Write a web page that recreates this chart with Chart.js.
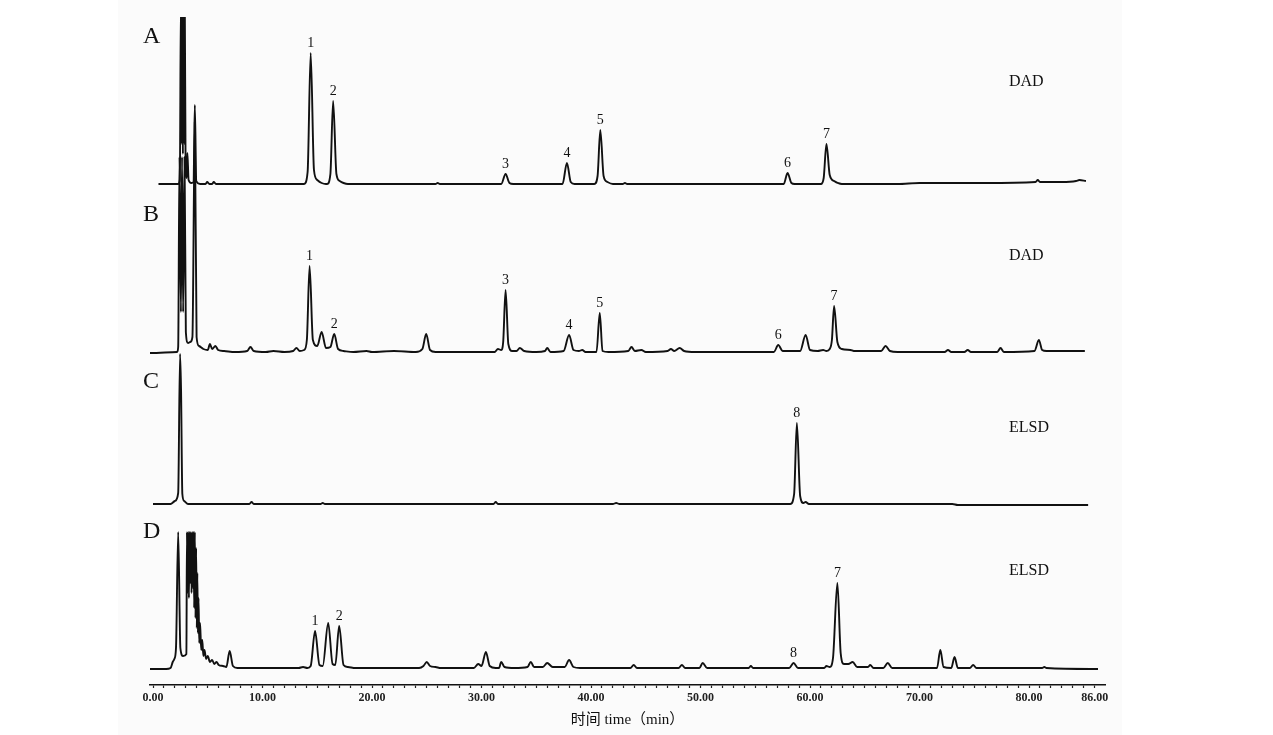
<!DOCTYPE html>
<html>
<head>
<meta charset="utf-8">
<script src="https://cdn.jsdelivr.net/npm/chart.js@4.4.1/dist/chart.umd.min.js"></script>
<style>
	html, body { margin: 0; padding: 0; background: #fff; }
	#chart { display: block; }
</style>
</head>
<body>
<canvas id="chart" width="1273" height="735"></canvas>
<script>
// retention time (min), signal height above each trace's own baseline
const traceA = [
	[0.5, 0], [2.3, 0], [2.45, 4], [2.55, 185], [2.61, 40], [2.67, 185], [2.73, 30], [2.79, 185], [2.85, 40],
	[2.9, 185], [2.98, 10], [3.08, 6], [3.14, 31], [3.25, 4], [3.5, 1],
	[3.7, 2], [3.82, 79], [3.95, 3], [4.3, 0], [4.8, 0], [4.95, 2], [5.15, 0], [5.4, 0], [5.55, 2], [5.75, 0],
	[13.8, 0], [14.12, 12], [14.4, 131], [14.7, 14], [15.0, 4], [15.4, 1], [15.8, 0],
	[15.9, 0], [16.2, 10], [16.45, 83], [16.75, 10], [17.05, 3], [17.4, 1], [17.8, 0],
	[25.8, 0], [26.0, 1], [26.2, 0],
	[31.8, 0], [32.2, 10], [32.55, 1], [32.9, 0],
	[37.4, 0], [37.8, 21], [38.15, 2], [38.5, 0],
	[40.3, 0], [40.6, 8], [40.85, 54], [41.15, 8], [41.5, 2], [42, 0], [42.9, 0], [43.1, 1], [43.3, 0],
	[57.6, 0], [57.95, 11], [58.3, 1], [58.6, 0],
	[61.0, 0], [61.25, 6], [61.5, 40], [61.8, 9], [62.2, 3], [62.9, 0],
	[68, 0], [70, 1], [76, 1], [80.6, 2], [80.8, 4], [81, 2], [83, 2], [84.3, 3], [84.6, 4], [85.2, 3]
]
const traceB = [
	[-0.3, -1], [2.2, 0], [2.3, 5], [2.42, 195], [2.55, 40], [2.65, 195], [2.75, 40], [2.88, 195], [3.0, 20], [3.2, 9], [3.4, 10],
	[3.6, 15], [3.82, 230], [3.98, 15], [4.2, 6], [4.6, 3], [5.0, 2], [5.2, 8], [5.4, 3], [5.7, 6], [5.95, 2],
	[6.5, 1], [7.5, 0], [8.6, 1], [8.9, 5], [9.2, 1], [10.3, 0], [11, 1], [12, 0], [12.8, 1], [13.1, 4], [13.4, 1],
	[13.8, 2], [14.05, 12], [14.3, 86], [14.6, 12], [15.0, 6], [15.4, 20], [15.8, 4], [16.2, 5], [16.55, 18], [16.9, 3], [17.4, 1],
	[18.3, 0], [19.5, 1], [20, 0], [22, 1], [24, 0], [24.6, 3], [24.95, 18], [25.3, 2], [25.8, 0],
	[31.2, 0], [31.5, 3], [31.8, 2], [31.98, 10], [32.2, 62], [32.45, 8], [32.8, 1], [33.2, 1], [33.5, 4], [33.9, 1], [35, 0], [35.8, 1],
	[36, 4], [36.3, 0], [37.5, 1], [38, 17], [38.4, 2], [38.9, 1], [39.2, 2], [39.5, 0], [40.5, 0], [40.8, 39],
	[41.05, 1], [41.6, 0], [43.4, 1], [43.7, 5], [44, 1], [44.6, 2], [45, 0], [47, 1], [47.3, 3], [47.6, 1],
	[48.1, 4], [48.5, 1], [49.5, 0], [56.7, 0], [57.1, 7], [57.5, 1], [59.1, 1], [59.6, 17], [60, 2], [60.7, 1],
	[61.2, 2], [61.5, 1], [61.8, 3], [62.0, 12], [62.2, 46], [62.5, 10], [62.9, 3], [63.7, 2], [64, 1], [65.1, 1], [66.5, 1],
	[66.9, 6], [67.3, 1], [68, 0], [72.3, 0], [72.6, 2], [72.9, 0], [74.1, 0], [74.4, 2], [74.7, 0], [77.1, 0], [77.4, 4], [77.7, 0], [80.5, 1],
	[80.9, 12], [81.2, 2], [81.6, 1], [85.1, 1]
]
const traceC = [
	[0, 0], [1.6, 0], [2.0, 3], [2.3, 11], [2.47, 150], [2.56, 115], [2.68, 10], [2.85, 3], [3.2, 0],
	[8.8, 0], [9.0, 2], [9.2, 0], [15.3, 0], [15.5, 1], [15.7, 0], [31.1, 0], [31.3, 2], [31.5, 0],
	[42, 0], [42.3, 1], [42.6, 0],
	[58.2, 0], [58.55, 10], [58.8, 81], [59.1, 8], [59.4, 1], [59.6, 2], [59.9, 0],
	[73, 0], [73.5, -1], [85.4, -1]
]
const traceD = [
	[-0.3, -1], [1.2, -1], [1.6, 0], [1.8, 6], [1.95, 9], [2.1, 20], [2.3, 136], [2.5, 20], [2.75, 12], [3.05, 14],
	[3.1, 136], [3.16, 75], [3.22, 136], [3.28, 70], [3.34, 136], [3.4, 85], [3.46, 136], [3.52, 75], [3.58, 136],
	[3.64, 80], [3.7, 136], [3.76, 60], [3.82, 136], [3.88, 50], [3.94, 120], [4.0, 40], [4.05, 95], [4.1, 35],
	[4.16, 70], [4.22, 25], [4.3, 45], [4.4, 18], [4.5, 28], [4.6, 12], [4.7, 18], [4.85, 9], [5.0, 12], [5.2, 6],
	[5.4, 8], [5.6, 4], [5.8, 6], [6.0, 3], [6.4, 2], [6.7, 1], [7.0, 17], [7.3, 2], [7.7, 0], [13.3, 0], [13.7, 1],
	[14.1, 0], [14.4, 2], [14.8, 37], [15.2, 3], [15.5, 2], [16.0, 45], [16.4, 4], [16.65, 3], [17.0, 42], [17.4, 3],
	[17.8, 1], [18.5, 0], [24.3, 0], [24.7, 2], [25.0, 6], [25.3, 2], [25.8, 1], [26.3, 0], [29.3, 0], [29.7, 4],
	[30.0, 2], [30.4, 16], [30.75, 2], [31.3, 0], [31.6, 0], [31.8, 6], [32.1, 1], [33, 0], [34.2, 1], [34.5, 6],
	[34.8, 1], [35.6, 1], [36, 5], [36.5, 1], [37.6, 1], [38, 8], [38.4, 1], [39, 0], [43.6, 0], [43.9, 3], [44.2, 0],
	[48, 0], [48.3, 3], [48.6, 0], [49.9, 0], [50.2, 5], [50.6, 0], [54.4, 0], [54.6, 2], [54.8, 0], [58.1, 0],
	[58.5, 5], [58.9, 0], [61.3, 0], [61.5, 2], [61.8, 1], [62.1, 10], [62.5, 85], [62.8, 15], [63.1, 4], [63.5, 4],
	[63.9, 6], [64.3, 1], [65.3, 1], [65.5, 3], [65.8, 0], [66.7, 0], [67.1, 5], [67.5, 0], [71.6, 0], [71.9, 18],
	[72.2, 1], [72.9, 0], [73.2, 11], [73.5, 0], [74.6, 0], [74.9, 3], [75.2, 0], [81.2, 0], [81.4, 1], [81.6, 0],
	[86.3, -1]
]

// numbered peaks: retention time of the apex, label
const peaksA = [[14.4, '1'], [16.45, '2'], [32.2, '3'], [37.8, '4'], [40.85, '5'], [57.95, '6'], [61.5, '7']]
const peaksB = [[14.3, '1'], [16.55, '2'], [32.2, '3'], [38.0, '4'], [40.8, '5'], [57.1, '6'], [62.2, '7']]
const peaksC = [[58.8, '8']]
const peaksD = [[14.8, '1'], [17.0, '2'], [58.5, '8'], [62.5, '7']]

const panelNames = ['A', 'B', 'C', 'D']
const detectors = ['DAD', 'DAD', 'ELSD', 'ELSD']
const labelTicks = [0, 10, 20, 30, 40, 50, 60, 70, 80, 86]
const xTitle = '时间 time（min）'

//layout------------------------------------------------------------

const offsets = [501, 333, 181, 17] // vertical shift of each trace
const letterY = [37, 215, 382, 532]
const detectorY = [82, 256, 428, 571]
const panel = { left: 118, right: 1122 }
const serif = '"Liberation Serif", "Times New Roman", serif'

const traces = [traceA, traceB, traceC, traceD]
const peaks = [peaksA, peaksB, peaksC, peaksD]

const decor = {
	id: 'decor',
	beforeDraw(chart) {
		const ctx = chart.ctx
		ctx.save()
		ctx.fillStyle = '#fff'
		ctx.fillRect(0, 0, chart.width, chart.height)
		ctx.fillStyle = '#fbfbfb'
		ctx.fillRect(panel.left, 0, panel.right - panel.left, chart.height)
		ctx.restore()
	},
	afterDraw(chart) {
		const ctx = chart.ctx
		const xs = chart.scales.x, ys = chart.scales.y
		ctx.save()
		ctx.fillStyle = '#111'
		ctx.textBaseline = 'middle'
		traces.forEach((tr, i) => {
			ctx.textAlign = 'left'
			ctx.font = `24px ${serif}`
			ctx.fillText(panelNames[i], 143, letterY[i])
			ctx.font = `16px ${serif}`
			ctx.fillText(detectors[i], 1009, detectorY[i])
			ctx.textAlign = 'center'
			ctx.font = `14px ${serif}`
			peaks[i].forEach(([t, txt]) => {
				const apex = tr.find(p => p[0] === t)
				ctx.fillText(txt, xs.getPixelForValue(t), ys.getPixelForValue(offsets[i] + apex[1]) - 10)
			})
		})
		ctx.restore()
	}
}

new Chart('chart', {
	type: 'line',
	data: {
		datasets: traces.map((tr, i) => ({
			label: panelNames[i],
			data: tr.map(p => ({ x: p[0], y: offsets[i] + p[1] })),
			borderColor: '#111',
			borderWidth: 1.9,
			pointRadius: 0,
			fill: false,
			cubicInterpolationMode: 'monotone'
		}))
	},
	options: {
		responsive: false,
		animation: false,
		devicePixelRatio: 1,
		layout: { padding: { left: 150, right: 168, top: 17, bottom: 0 } },
		plugins: {
			legend: { display: false },
			tooltip: { enabled: false }
		},
		scales: {
			x: {
				type: 'linear',
				min: -0.274,
				max: 86.94,
				afterBuildTicks(scale) {
					const ticks = []
					for (let v = 0; v <= 86; v++) ticks.push({ value: v })
					scale.ticks = ticks
				},
				afterFit(scale) {
					scale.height = 50
				},
				ticks: {
					autoSkip: false,
					maxRotation: 0,
					padding: 3,
					color: '#222',
					font: { family: serif, size: 12, weight: 'bold' },
					callback: v => labelTicks.includes(v) ? v.toFixed(2) : ''
				},
				grid: {
					drawOnChartArea: false,
					drawTicks: true,
					tickLength: 3,
					tickColor: '#222',
					tickWidth: 1.2
				},
				border: { display: true, color: '#111', width: 1.6 },
				title: {
					display: true,
					text: xTitle,
					color: '#111',
					font: { family: `${serif}, "Noto Sans CJK SC"`, size: 15 },
					padding: { top: 0, bottom: 6 }
				}
			},
			y: {
				display: false,
				min: 0,
				max: 668
			}
		}
	},
	plugins: [decor]
})
</script>
</body>
</html>
